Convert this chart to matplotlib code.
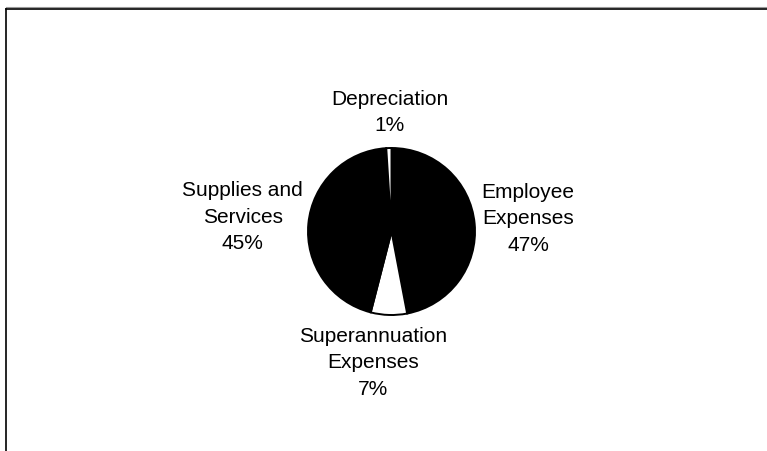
import matplotlib.pyplot as plt

# expense breakdown, clockwise from 12 o'clock
categories = ["Employee\nExpenses", "Superannuation\nExpenses", "Supplies and\nServices", "Depreciation"]
shares = [47, 7, 45, 1]
fills = ["black", "white", "black", "white"]

# label anchors in pie-radius units
label_pos = [(1.635, 0.15), (-0.22, -1.57), (-1.78, 0.17), (-0.02, 1.425)]

plt.rcParams["font.family"] = ["Liberation Sans", "DejaVu Sans"]

W, H, DPI = 767, 451, 100
fig = plt.figure(figsize=(W / DPI, H / DPI), dpi=DPI)
fig.patch.set_facecolor("white")

# outer frame: only the top and left edges fall inside the image
frame = fig.add_axes([0, 0, 1, 1])
frame.set_xlim(0, W)
frame.set_ylim(H, 0)
frame.axis("off")
frame.plot([5.5, W], [7.2, 7.2], color="#9a9a9a", lw=0.8)
frame.plot([5.5, W], [8.5, 8.5], color="black", lw=1.2)
frame.plot([5.5, 5.5], [8.5, H], color="black", lw=1.2)

# pie centred at (391.5, 231.5) px with radius 83.5 px
cx, cy, r = 391.5, 231.5, 83.5
ax = fig.add_axes([(cx - r) / W, (H - cy - r) / H, 2 * r / W, 2 * r / H])
ax.pie(shares, colors=fills, startangle=90, counterclock=False,
       wedgeprops=dict(edgecolor="black", linewidth=1.4))
ax.set_xlim(-1, 1)
ax.set_ylim(-1, 1)
ax.axis("off")

for name, v, (x, y) in zip(categories, shares, label_pos):
    ax.text(x, y, f"{name}\n{v:.0f}%", ha="center", va="center",
            fontsize=15, linespacing=1.5, clip_on=False)

fig.savefig("out.png", dpi=DPI)
